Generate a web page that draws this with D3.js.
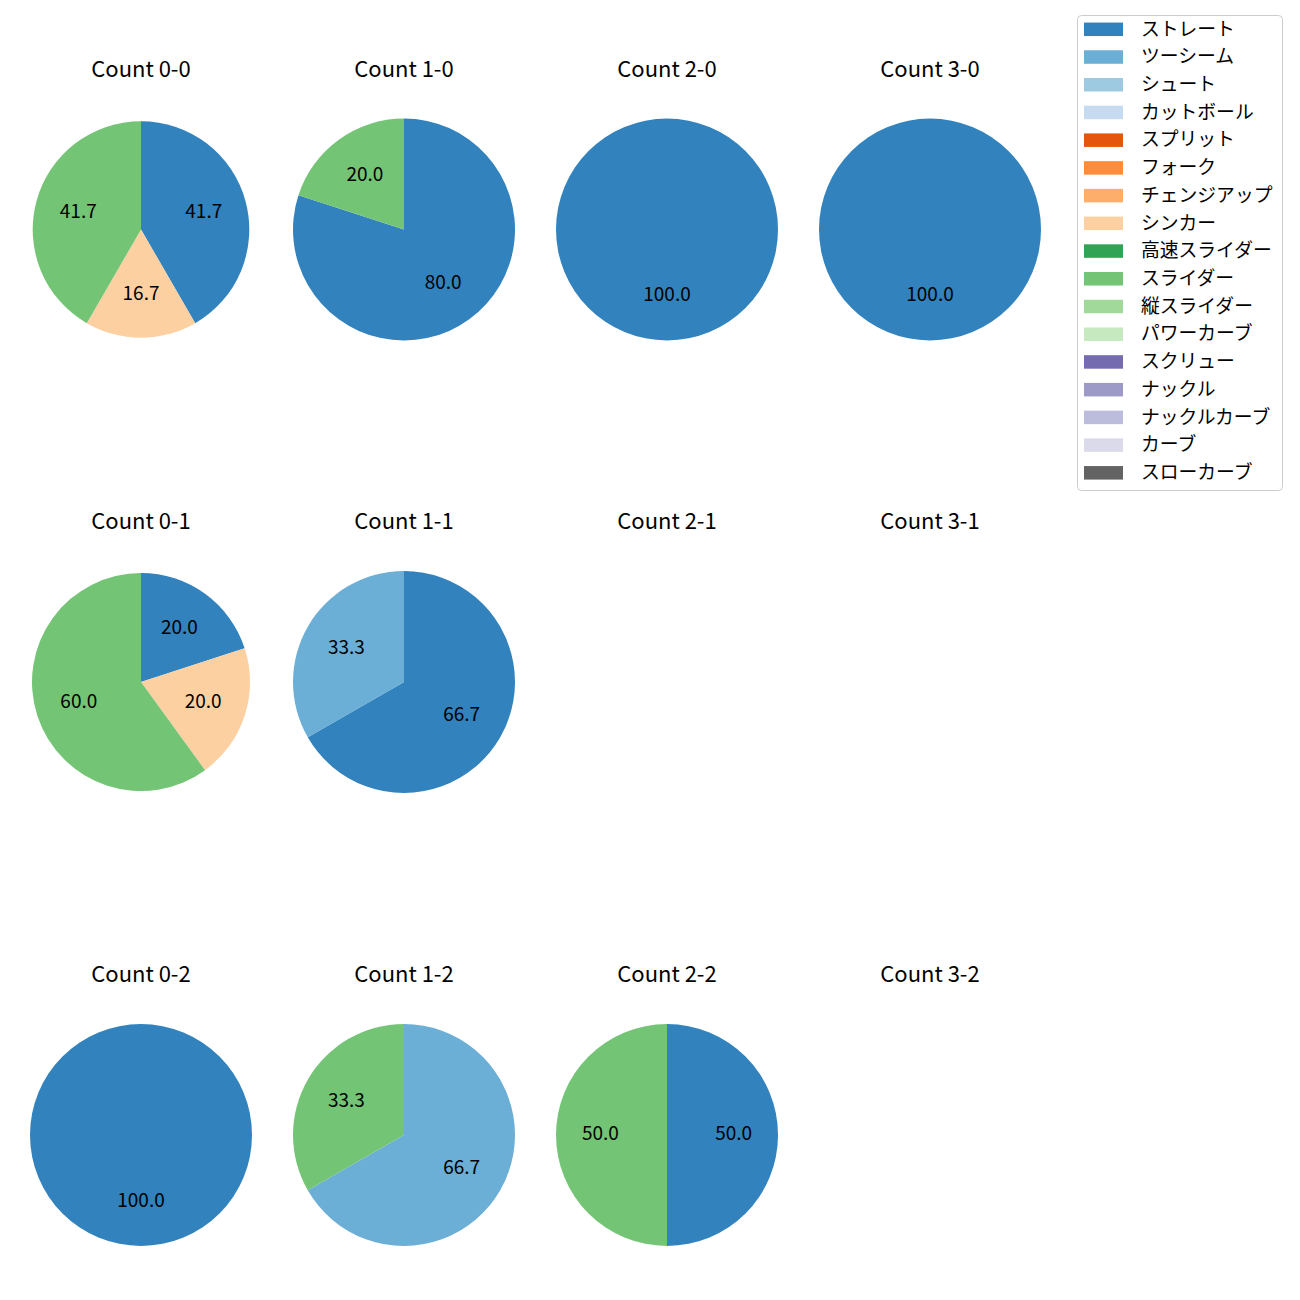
<!DOCTYPE html>
<html>
<head>
<meta charset="utf-8">
<script src="https://cdn.jsdelivr.net/npm/d3@7"></script>
<style>
  html, body { margin: 0; padding: 0; background: #fff; }
  svg { display: block; }
  text { font-family: "Noto Sans CJK JP", "Noto Sans", sans-serif; fill: #000; }
</style>
</head>
<body>
<svg id="chart" width="1300" height="1300"></svg>
<script>
// ---- data ----
const pitchTypes = ["ストレート","ツーシーム","シュート","カットボール","スプリット","フォーク","チェンジアップ","シンカー","高速スライダー","スライダー","縦スライダー","パワーカーブ","スクリュー","ナックル","ナックルカーブ","カーブ","スローカーブ"];
const pitchColors = ["#3182bd","#6baed6","#9ecae1","#c6dbef","#e6550d","#fd8d3c","#fdae6b","#fdd0a2","#31a354","#74c476","#a1d99b","#c7e9c0","#756bb1","#9e9ac8","#bcbddc","#dadaeb","#636363"];
const countLabels = ["0-0","1-0","2-0","3-0","0-1","1-1","2-1","3-1","0-2","1-2","2-2","3-2"];
// percentage share per count: [pitch type, percent]
const count00 = [["ストレート",41.7],["シンカー",16.7],["スライダー",41.7]];
const count10 = [["ストレート",80.0],["スライダー",20.0]];
const count20 = [["ストレート",100.0]];
const count30 = [["ストレート",100.0]];
const count01 = [["ストレート",20.0],["シンカー",20.0],["スライダー",60.0]];
const count11 = [["ストレート",66.7],["ツーシーム",33.3]];
const count21 = [];
const count31 = [];
const count02 = [["ストレート",100.0]];
const count12 = [["ツーシーム",66.7],["スライダー",33.3]];
const count22 = [["ストレート",50.0],["スライダー",50.0]];
const count32 = [];
const countValues = [count00,count10,count20,count30,count01,count11,count21,count31,count02,count12,count22,count32];

// ---- layout ----
const colX = [141, 404, 667, 930];
const rowY = [229.5, 682, 1135];
const radii = [108.3, 111, 111, 111, 109, 111, 111, 111, 111, 111, 111, 111];
const titleOffset = 153;

const svg = d3.select("#chart");
const color = d3.scaleOrdinal().domain(pitchTypes).range(pitchColors);
const pie = d3.pie().sort(null).value(d => d[1]);

countLabels.forEach((lab, i) => {
  const cx = colX[i % 4], cy = rowY[Math.floor(i / 4)];
  const r = radii[i];
  const g = svg.append("g").attr("transform", `translate(${cx},${cy})`);
  g.append("text")
    .attr("x", 0).attr("y", -titleOffset)
    .attr("text-anchor", "middle")
    .style("font-size", "22px")
    .text("Count " + lab);
  const data = countValues[i];
  if (!data.length) return;
  const arcs = pie(data);
  const arc = d3.arc().innerRadius(0).outerRadius(r);
  const labelArc = d3.arc().innerRadius(r * 0.6).outerRadius(r * 0.6);
  g.selectAll("path.slice").data(arcs).enter().append("path")
    .attr("class", "slice")
    .attr("d", arc)
    .attr("fill", d => color(d.data[0]));
  g.selectAll("text.pct").data(arcs).enter().append("text")
    .attr("class", "pct")
    .attr("transform", d => `translate(${labelArc.centroid(d)})`)
    .attr("text-anchor", "middle")
    .attr("dy", "0.28em")
    .style("font-size", "19px")
    .text(d => d.data[1].toFixed(1));
});

// ---- legend ----
const lg = svg.append("g");
lg.append("rect")
  .attr("x", 1077.5).attr("y", 15.5)
  .attr("width", 205).attr("height", 475)
  .attr("rx", 4).attr("ry", 4)
  .attr("fill", "#fff").attr("fill-opacity", 0.8)
  .attr("stroke", "#cccccc").attr("stroke-width", 1);
const rowStep = 27.72, row0 = 29.3;
const items = lg.selectAll("g.item").data(pitchTypes).enter().append("g")
  .attr("class", "item")
  .attr("transform", (d, i) => `translate(0,${row0 + i * rowStep})`);
items.append("rect")
  .attr("x", 1084).attr("y", -6.75)
  .attr("width", 39).attr("height", 13.5)
  .attr("fill", d => color(d));
items.append("text")
  .attr("x", 1141).attr("y", 0).attr("dy", "0.33em")
  .style("font-size", "18.8px")
  .text(d => d);
</script>
</body>
</html>
